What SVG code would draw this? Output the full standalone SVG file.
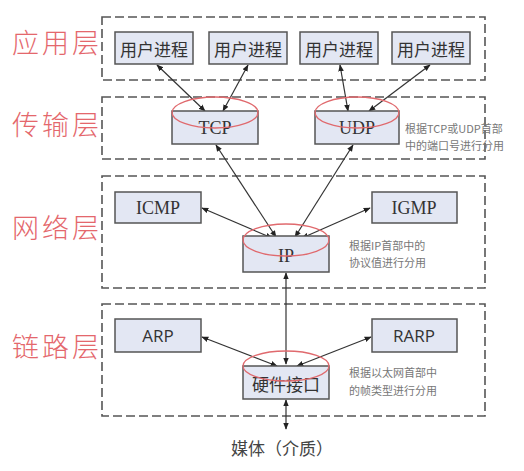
<svg xmlns="http://www.w3.org/2000/svg" width="524" height="471" viewBox="0 0 524 471">
<defs>
<marker id="ah" viewBox="0 0 10 10" refX="9" refY="5" markerWidth="7" markerHeight="7" orient="auto-start-reverse" markerUnits="userSpaceOnUse">
<path d="M0,1 L10,5 L0,9 z" fill="#222"/>
</marker>
<style>
.layer{fill:none;stroke:#555;stroke-width:1.6;stroke-dasharray:9 4}
.lbl{font-family:"Noto Sans CJK SC","Noto Sans",sans-serif;font-size:27px;font-weight:300;fill:#e4676c;letter-spacing:3px}
.box{fill:#e3e7f3;stroke:#555;stroke-width:1.5}
.ell{fill:none;stroke:#e06a6e;stroke-width:1.3}
.cn{font-family:"Noto Sans CJK SC",sans-serif;font-size:17px;fill:#333;text-anchor:middle;dominant-baseline:central}
.se{font-family:"Liberation Serif","DejaVu Serif",serif;font-size:18px;fill:#333;text-anchor:middle;dominant-baseline:central}
.sa{font-family:"Open Sans","Liberation Sans",sans-serif;font-size:17px;fill:#333;text-anchor:middle;dominant-baseline:central}
.note{font-family:"Noto Sans CJK SC",sans-serif;font-size:11px;fill:#777;dominant-baseline:central}
.con{stroke:#333;stroke-width:1.2;fill:none;marker-start:url(#ah);marker-end:url(#ah)}
</style>
</defs>
<rect width="524" height="471" fill="#fff"/>

<g id="layers">
<rect class="layer" x="102" y="17" width="383" height="63"/>
<rect class="layer" x="102" y="97" width="383" height="62"/>
<rect class="layer" x="102" y="176" width="383" height="112"/>
<rect class="layer" x="102" y="304" width="383" height="112"/>
<text class="lbl" x="12" y="53">应用层</text>
<text class="lbl" x="12" y="135">传输层</text>
<text class="lbl" x="12" y="238">网络层</text>
<text class="lbl" x="12" y="357">链路层</text>
</g>

<g id="connectors">
<line class="con" x1="157" y1="65" x2="205" y2="111"/>
<line class="con" x1="248" y1="65" x2="223" y2="111"/>
<line class="con" x1="340" y1="65" x2="348" y2="111"/>
<line class="con" x1="430" y1="65" x2="369" y2="111"/>
<line class="con" x1="216" y1="145" x2="276" y2="237"/>
<line class="con" x1="353" y1="145" x2="295" y2="237"/>
<line class="con" x1="202" y1="208" x2="272" y2="238"/>
<line class="con" x1="370" y1="208" x2="302" y2="238"/>
<line class="con" x1="286" y1="273" x2="286" y2="364"/>
<line class="con" x1="202" y1="337" x2="277" y2="366"/>
<line class="con" x1="371" y1="337" x2="297" y2="366"/>
<line class="con" x1="286" y1="400" x2="286" y2="429"/>
</g>

<g id="app1"><rect class="box" x="115" y="32" width="78" height="32"/><text class="cn" x="154" y="48">用户进程</text></g>
<g id="app2"><rect class="box" x="209" y="32" width="78" height="32"/><text class="cn" x="248" y="48">用户进程</text></g>
<g id="app3"><rect class="box" x="300" y="32" width="78" height="32"/><text class="cn" x="339" y="48">用户进程</text></g>
<g id="app4"><rect class="box" x="392" y="32" width="78" height="32"/><text class="cn" x="431" y="48">用户进程</text></g>

<g id="tcp"><rect class="box" x="172" y="111" width="86" height="33"/><text class="se" x="215" y="128">TCP</text><ellipse class="ell" cx="215" cy="112.5" rx="43" ry="15.5"/></g>
<g id="udp"><rect class="box" x="315" y="111" width="84" height="33"/><text class="se" x="357" y="128">UDP</text><ellipse class="ell" cx="357" cy="112.5" rx="42" ry="15.5"/></g>
<g id="note-transport"><text class="note" x="405" y="128">根据TCP或UDP首部</text><text class="note" x="405" y="145">中的端口号进行分用</text></g>

<g id="icmp"><rect class="box" x="115" y="192" width="86" height="31"/><text class="se" x="158" y="208">ICMP</text></g>
<g id="igmp"><rect class="box" x="372" y="192" width="85" height="31"/><text class="se" x="414" y="208">IGMP</text></g>
<g id="ip"><rect class="box" x="243" y="236" width="86" height="36"/><text class="se" x="286" y="256">IP</text><ellipse class="ell" cx="286" cy="240" rx="43" ry="16"/></g>
<g id="note-network"><text class="note" x="349" y="245">根据IP首部中的</text><text class="note" x="349" y="262">协议值进行分用</text></g>

<g id="arp"><rect class="box" x="115" y="319" width="86" height="33"/><text class="sa" x="158" y="335">ARP</text></g>
<g id="rarp"><rect class="box" x="372" y="319" width="85" height="33"/><text class="sa" x="414" y="335">RARP</text></g>
<g id="hw"><rect class="box" x="243" y="366" width="86" height="33"/><text class="cn" x="286" y="383">硬件接口</text><ellipse class="ell" cx="286" cy="366" rx="43" ry="15"/></g>
<g id="note-link"><text class="note" x="349" y="372">根据以太网首部中</text><text class="note" x="349" y="390">的帧类型进行分用</text></g>

<g id="media"><text class="cn" x="282" y="447" style="font-size:17px;fill:#444">媒体（介质）</text></g>
</svg>
